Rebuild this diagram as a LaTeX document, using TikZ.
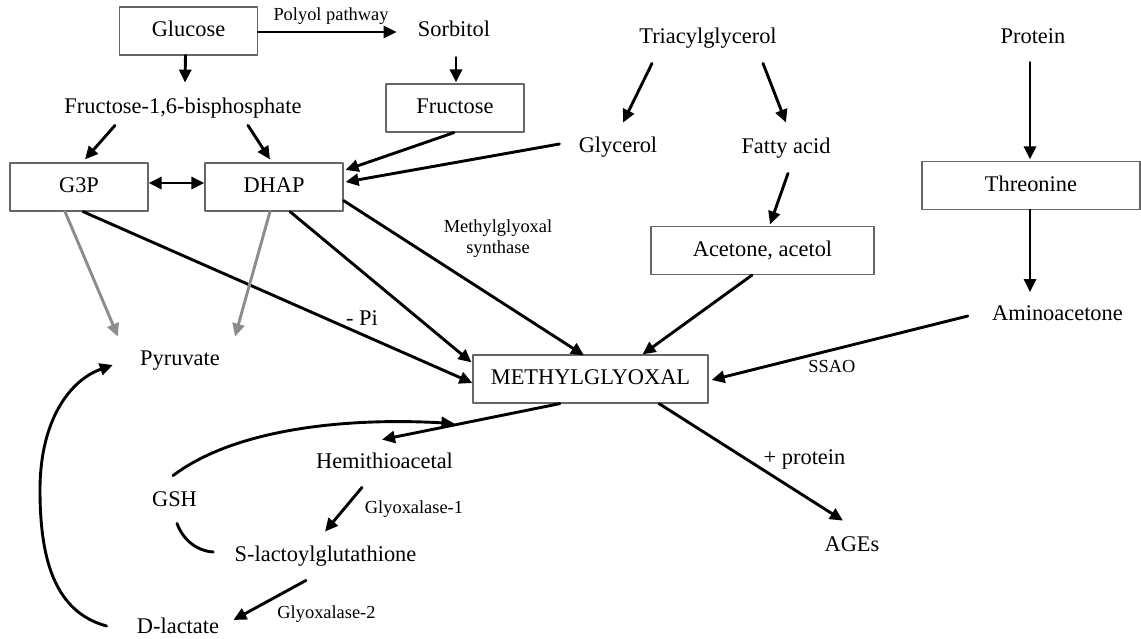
\documentclass[tikz,border=0pt]{standalone}
\usepackage{fontspec}
\setmainfont{Liberation Serif}
\usetikzlibrary{arrows.meta,calc}
\begin{document}
\begin{tikzpicture}[x=.5pt, y=-.5pt, line join=round, line cap=round, >={Triangle[length=6.5pt,width=6pt]},
	txt/.style={font=\fontsize{11.2}{13}\selectfont, text height=8pt, text depth=2.5pt, inner sep=2pt},
	lbl/.style={font=\fontsize{9.2}{10.5}\selectfont, text height=6.5pt, text depth=2pt, inner sep=1pt},
	box/.style={txt, draw=black!60, line width=.6pt, minimum height=24pt, inner sep=0pt},
	arr/.style={->, line width=1.45pt},
	grey/.style={arr, draw=black!45, fill=black!45}]
	\useasboundingbox (0,0) rectangle (1141,638);
	% cột đường phân
	\node[box, minimum width=69pt] (glucose) at (188.5,31) {Glucose};
	\node[lbl] (polyol) at (331,15.5) {Polyol pathway};
	\node[txt] (sorbitol) at (454,30.5) {Sorbitol};
	\node[box, minimum width=69pt] (fructose) at (455,108) {Fructose};
	\node[txt] (f16bp) at (183,107.5) {Fructose-1,6-bisphosphate};
	\node[box, minimum width=69pt] (g3p) at (79,187) {G3P};
	\node[box, minimum width=69pt] (dhap) at (274,187) {DHAP};
	\node[txt] (pyruvate) at (180,359.5) {Pyruvate};
	% lipid
	\node[txt] (tag) at (708,37.5) {Triacylglycerol};
	\node[txt] (glycerol) at (618,146.5) {Glycerol};
	\node[txt] (fatty) at (786,147.5) {Fatty acid};
	\node[box, minimum width=111.5pt] (acetone) at (762.5,250.5) {Acetone, acetol};
	% protein
	\node[txt] (protein) at (1033,37.5) {Protein};
	\node[box, minimum width=109pt] (threonine) at (1031,185.5) {Threonine};
	\node[txt] (amino) at (1057.5,314.5) {Aminoacetone};
	% trung tâm
	\node[box, minimum width=117.5pt] (mg) at (590.5,379) {METHYLGLYOXAL};
	\node[lbl, align=center] (synth) at (498,249) {Methylglyoxal\\synthase};
	\node[txt] (pi) at (362,319.5) {- Pi};
	\node[lbl] (ssao) at (832,367.5) {SSAO};
	\node[txt] (plus) at (804.5,458.5) {+ protein};
	\node[txt] (ages) at (852,545.5) {AGEs};
	% hệ glyoxalase
	\node[txt] (hemi) at (384.5,462.5) {Hemithioacetal};
	\node[lbl] (gly1) at (414,508.5) {Glyoxalase-1};
	\node[txt] (gsh) at (174.5,500.5) {GSH};
	\node[txt] (slac) at (325.5,555.5) {S-lactoylglutathione};
	\node[lbl] (gly2) at (326.5,613.5) {Glyoxalase-2};
	\node[txt] (dlac) at (178,627.5) {D-lactate};
	
	\draw[arr] ($(glucose.east)+(0,1)$) -- ($(sorbitol.west)+(-17,1.5)$);
	\draw[arr] ($(glucose.south)+(-3,0)$) -- ($(f16bp.north)+(2,-10)$);
	\draw[arr] ($(sorbitol.south)+(2,12)$) -- ($(fructose.north)+(1,-1)$);
	\draw[arr] ($(f16bp.south)+(-68,3)$) -- ($(g3p.north)+(6,-3)$);
	\draw[arr] ($(f16bp.south)+(65,3)$) -- ($(dhap.north)+(-4,-3)$);
	\draw[arr, <->] ($(g3p.east)+(0,-4)$) -- ($(dhap.west)+(0,-4)$);
	\draw[arr] ($(fructose.south)+(-1,0)$) -- ($(dhap.east)+(2,-17)$);
	\draw[arr] ($(glycerol.west)+(-15,-2.5)$) -- ($(dhap.east)+(2,-5)$);
	\draw[arr] ($(tag.south)+(-56,11)$) -- ($(glycerol.north)+(5,-9)$);
	\draw[arr] ($(tag.south)+(55,11)$) -- ($(fatty.north)+(0,-10)$);
	\draw[arr] ($(fatty.south)+(2,11)$) -- ($(acetone.north)+(7.5,-1.5)$);
	\draw[arr] ($(protein.south)+(-3,10)$) -- ($(threonine.north)+(-1,-1.5)$);
	\draw[arr] ($(threonine.south)+(-1,0)$) -- ($(amino.north)+(-27.5,-7.5)$);
	\draw[arr] ($(amino.west)+(-20,1.5)$) -- ($(mg.east)+(3,1)$);
	\draw[arr] ($(acetone.south)+(-10.5,0)$) -- ($(mg.north)+(52,0)$);
	\draw[arr] ($(dhap.south east)+(0,-11)$) -- ($(mg.north)+(-6.5,1)$);
	\draw[arr] ($(dhap.south)+(16,0)$) -- ($(mg.north west)+(-1,8)$);
	\draw[arr] ($(g3p.south)+(4,0)$) -- ($(mg.west)+(0,4)$);
	\draw[grey] ($(g3p.south)+(-14,0)$) -- ($(pyruvate.north)+(-62,-8)$);
	\draw[grey] ($(dhap.south)+(-4,0)$) -- ($(pyruvate.north)+(55,-8)$);
	\draw[arr] ($(mg.south)+(68.5,0)$) -- ($(ages.north)+(-9,-10)$);
	
	\draw[arr] ($(mg.south)+(-30.5,0)$) -- ($(hemi.north)+(-2.5,-8)$);
	\draw[arr] ($(gsh.north)+(-1.5,-10)$) .. controls (240,425) and (360,418) .. ($(mg.south west)+(-18,20)$);
	\draw[arr] ($(hemi.south)+(-22.5,10)$) -- ($(slac.north)+(-0.5,-9)$);
	\draw[line width=1.45pt] ($(gsh.south)+(2.5,8)$) .. controls (183,540) and (197,551) .. ($(slac.west)+(-17,-3.5)$);
	\draw[arr] ($(slac.south)+(-19.5,10)$) -- ($(dlac.east)+(10,-7.5)$);
	\draw[arr] ($(dlac.west)+(-26,-1.5)$) .. controls (55,612) and (40,560) .. (40,490)
		.. controls (40,420) and (70,380) .. ($(pyruvate.west)+(-23,5.5)$);
\end{tikzpicture}
\end{document}
